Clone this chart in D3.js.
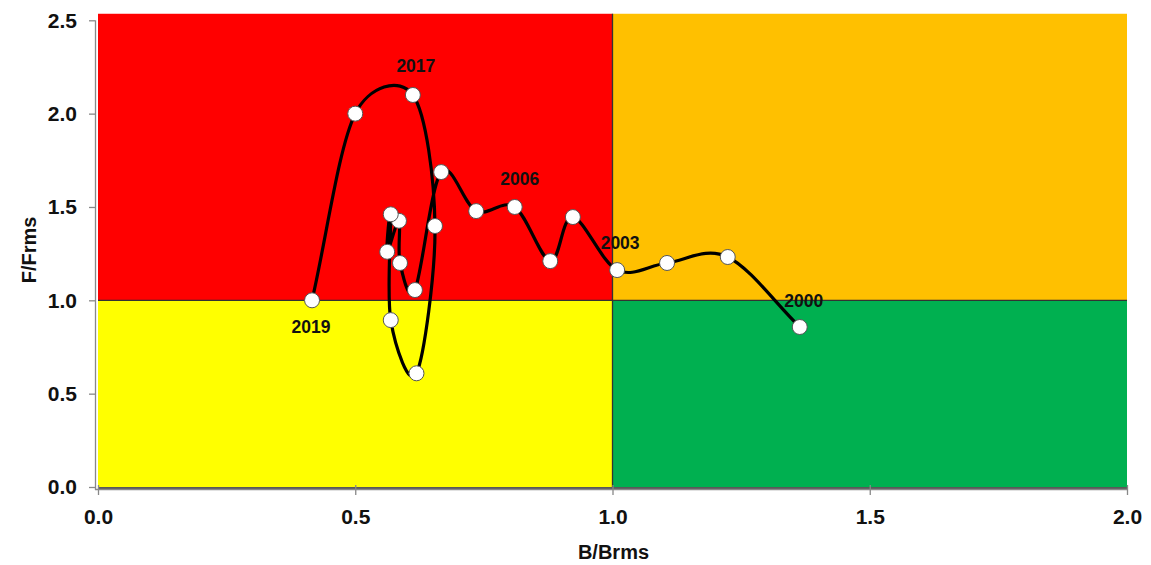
<!DOCTYPE html>
<html>
<head>
<meta charset="utf-8">
<script src="https://cdn.jsdelivr.net/npm/d3@7"></script>
<style>
  html, body { margin: 0; padding: 0; background: #fff; }
  svg { display: block; font-family: "Liberation Sans", Arial, sans-serif; }
</style>
</head>
<body>
<svg id="chart" width="1151" height="565"></svg>
<script>
// ---- data ----
const years = [2000, 2001, 2002, 2003, 2004, 2005, 2006, 2007, 2008, 2009,
               2010, 2011, 2012, 2013, 2014, 2015, 2016, 2017, 2018, 2019];
const bRatio = [1.364, 1.224, 1.106, 1.009, 0.923, 0.879, 0.810, 0.735, 0.667, 0.616,
                0.587, 0.585, 0.562, 0.569, 0.569, 0.619, 0.655, 0.612, 0.500, 0.416];
const fRatio = [0.857, 1.232, 1.200, 1.162, 1.446, 1.210, 1.500, 1.478, 1.687, 1.055,
                1.200, 1.426, 1.260, 1.461, 0.894, 0.609, 1.398, 2.100, 2.000, 1.000];
const labelledYears = [2000, 2003, 2006, 2017, 2019];
const xTicks = [0, 0.5, 1.0, 1.5, 2.0];
const yTicks = [0, 0.5, 1.0, 1.5, 2.0, 2.5];
const xTitle = "B/Brms";
const yTitle = "F/Frms";
const zones = [
  { x0: 0, x1: 1, y0: 1, y1: 2.535, color: "#FF0000" },
  { x0: 1, x1: 2, y0: 1, y1: 2.535, color: "#FFC000" },
  { x0: 0, x1: 1, y0: 0, y1: 1, color: "#FFFF00" },
  { x0: 1, x1: 2, y0: 0, y1: 1, color: "#00B050" }
];

const points = years.map((yr, i) => ({ year: yr, b: bRatio[i], f: fRatio[i] }));

// Spreadsheet-style smoothed line as a d3 curve factory
function curveSmoothSheet(context) {
  let pts = [];
  const dist = (a, b) => Math.hypot(b[0] - a[0], b[1] - a[1]);
  return {
    areaStart() {}, areaEnd() {},
    lineStart() { pts = []; },
    point(px, py) { pts.push([+px, +py]); },
    lineEnd() {
      const n = pts.length;
      if (!n) return;
      context.moveTo(pts[0][0], pts[0][1]);
      if (n === 1) return;
      for (let i = 0; i < n - 1; i++) {
        const p0 = pts[i - 1] || pts[i], p1 = pts[i], p2 = pts[i + 1], p3 = pts[i + 2] || pts[i + 1];
        const d12 = dist(p1, p2);
        const f1 = i === 0 ? 1 / 3 : 1 / 6;
        const f2 = i + 2 >= n ? 1 / 3 : 1 / 6;
        const d02 = dist(p0, p2), d13 = dist(p1, p3);
        let c1 = p1, c2 = p2;
        if (d02 > 0) {
          const L1 = Math.min(d02 * f1, d12 / 2);
          c1 = [p1[0] + (p2[0] - p0[0]) / d02 * L1, p1[1] + (p2[1] - p0[1]) / d02 * L1];
        }
        if (d13 > 0) {
          const L2 = Math.min(d13 * f2, d12 / 2);
          c2 = [p2[0] - (p3[0] - p1[0]) / d13 * L2, p2[1] - (p3[1] - p1[1]) / d13 * L2];
        }
        context.bezierCurveTo(c1[0], c1[1], c2[0], c2[1], p2[0], p2[1]);
      }
    }
  };
}

// ---- layout ----
const svg = d3.select("#chart");
const x = d3.scaleLinear().domain([0, 2]).range([98, 1127]);
const y = d3.scaleLinear().domain([0, 2.5]).range([487, 20.3]);

// zones
svg.append("g").selectAll("rect").data(zones).join("rect")
  .attr("x", d => x(d.x0))
  .attr("y", d => y(d.y1))
  .attr("width", d => x(d.x1) - x(d.x0))
  .attr("height", d => y(d.y0) - y(d.y1))
  .attr("fill", d => d.color);

// dividing lines
svg.append("line")
  .attr("x1", x(1)).attr("x2", x(1))
  .attr("y1", y(2.535)).attr("y2", y(0))
  .attr("stroke", "#333").attr("stroke-width", 1.3);
svg.append("line")
  .attr("x1", x(0)).attr("x2", x(2))
  .attr("y1", y(1)).attr("y2", y(1))
  .attr("stroke", "#333").attr("stroke-width", 1.3);
svg.append("line")
  .attr("x1", x(0)).attr("x2", x(2))
  .attr("y1", y(0) + 1).attr("y2", y(0) + 1)
  .attr("stroke", "#222").attr("stroke-width", 1.5);

// axes
const xAxis = d3.axisBottom(x).tickValues(xTicks).tickFormat(d3.format(".1f"))
  .tickSizeInner(6).tickSizeOuter(0).tickPadding(14);
const gx = svg.append("g").attr("transform", `translate(0,${y(0) + 2})`).call(xAxis);
gx.select(".domain").attr("stroke", "#888").attr("stroke-width", 1.3)
  .attr("d", `M${x(0) - 3},0.5H${x(2) + 1}`);
gx.selectAll(".tick line").attr("stroke", "#888").attr("stroke-width", 1.3).attr("y1", -4);
gx.selectAll(".tick text").attr("fill", "#111")
  .style("font-size", "21px").style("font-weight", "bold");

const yAxis = d3.axisLeft(y).tickValues(yTicks).tickFormat(d3.format(".1f"))
  .tickSizeInner(6).tickSizeOuter(0).tickPadding(12);
const gy = svg.append("g").attr("transform", `translate(${x(0) - 3},0)`).call(yAxis);
gy.select(".domain").attr("stroke", "#888").attr("stroke-width", 1.3)
  .attr("d", `M0.5,${y(2.5)}V${y(0) + 3}`);
gy.selectAll(".tick line").attr("stroke", "#888").attr("stroke-width", 1.3);
gy.selectAll(".tick text").attr("fill", "#111")
  .style("font-size", "21px").style("font-weight", "bold");

// axis titles
svg.append("text")
  .attr("x", (x(0) + x(2)) / 2 + 1).attr("y", 559)
  .attr("text-anchor", "middle")
  .style("font-size", "20px").style("font-weight", "bold").attr("fill", "#111")
  .text(xTitle);
svg.append("text")
  .attr("transform", `translate(36,${y(1.27)}) rotate(-90)`)
  .attr("text-anchor", "middle")
  .style("font-size", "20px").style("font-weight", "bold").attr("fill", "#111")
  .text(yTitle);

// trajectory
const line = d3.line()
  .x(d => x(d.b)).y(d => y(d.f))
  .curve(curveSmoothSheet);
svg.append("path").datum(points)
  .attr("d", line)
  .attr("fill", "none")
  .attr("stroke", "#000")
  .attr("stroke-width", 3.2)
  .attr("stroke-linejoin", "round");

// markers
svg.append("g").selectAll("circle").data(points).join("circle")
  .attr("cx", d => x(d.b)).attr("cy", d => y(d.f))
  .attr("r", 7.5)
  .attr("fill", "#fff")
  .attr("stroke", "#555")
  .attr("stroke-width", 1);

// year labels
const labelOffset = { 2000: [4, -20], 2003: [3, -21], 2006: [5, -22], 2017: [3, -23], 2019: [-1, 33] };
svg.append("g").selectAll("text")
  .data(points.filter(d => labelledYears.includes(d.year)))
  .join("text")
  .attr("x", d => x(d.b) + labelOffset[d.year][0])
  .attr("y", d => y(d.f) + labelOffset[d.year][1])
  .attr("text-anchor", "middle")
  .style("font-size", "17.5px").style("font-weight", "bold").attr("fill", "#111")
  .text(d => d.year);
</script>
</body>
</html>
